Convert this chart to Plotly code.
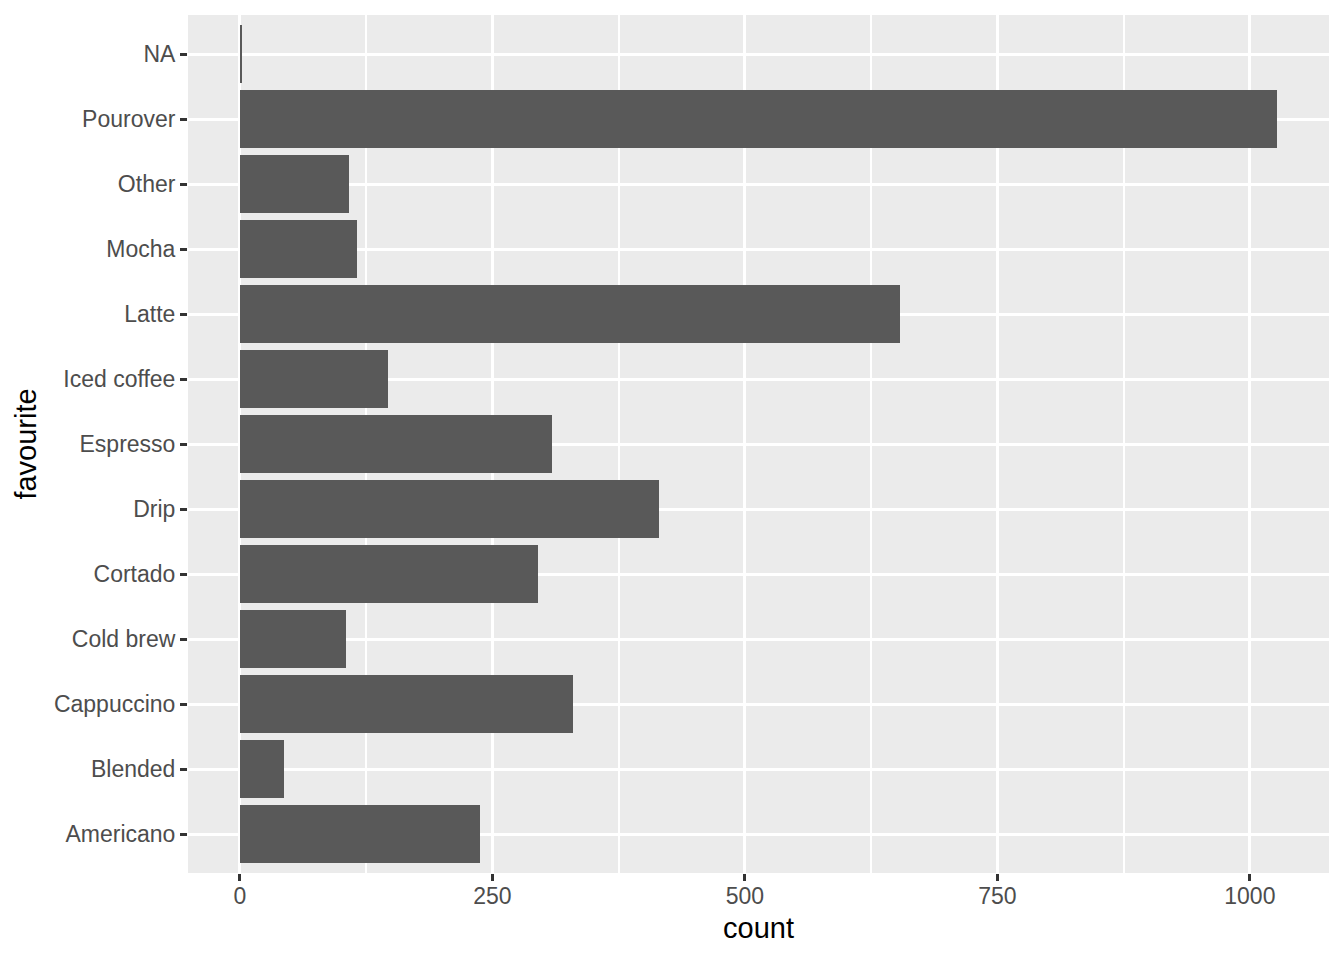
"""
Favourite coffee counts, horizontal bar chart in a ggplot-like style
"""

import plotly.graph_objects as go

# categories bottom -> top
favourite = ["Americano", "Blended", "Cappuccino", "Cold brew", "Cortado", "Drip",
             "Espresso", "Iced coffee", "Latte", "Mocha", "Other", "Pourover", "NA"]
count = [238, 44, 330, 105, 295, 415, 309, 147, 654, 116, 108, 1027, 2]

x_ticks = [0, 250, 500, 750, 1000]

FONT = "Liberation Sans, Arial, sans-serif"

fig = go.Figure()
fig.add_trace(go.Bar(
    x=count,
    y=favourite,
    orientation="h",
    width=0.9,
    marker=dict(color="#595959", line=dict(width=0)),
))

# page body adds an 8px margin, so the figure is a bit smaller than the window
fig.update_layout(
    width=1336,
    height=952,
    margin=dict(l=180, r=15, t=7, b=87),
    paper_bgcolor="white",
    plot_bgcolor="#EBEBEB",
    showlegend=False,
    bargap=0,
    font=dict(family=FONT, color="#4D4D4D", size=23),
)

fig.update_xaxes(
    range=[-51.35, 1078.35],
    tickvals=x_ticks,
    ticktext=[str(v) for v in x_ticks],
    ticks="outside",
    ticklen=7,
    tickwidth=2.7,
    tickcolor="#333333",
    ticklabelstandoff=-5,
    showgrid=True,
    gridcolor="white",
    gridwidth=3,
    zeroline=False,
    showline=False,
    minor=dict(tickvals=[125, 375, 625, 875], showgrid=True,
               gridcolor="white", gridwidth=1.5, ticks=""),
    tickfont=dict(size=23, color="#4D4D4D"),
    title=dict(text="count", font=dict(size=29, color="black"), standoff=10),
)

fig.update_yaxes(
    categoryorder="array",
    categoryarray=favourite,
    range=[-0.6, len(favourite) - 0.4],
    ticks="outside",
    ticklen=7,
    tickwidth=2.7,
    tickcolor="#333333",
    showgrid=True,
    gridcolor="white",
    gridwidth=3,
    zeroline=False,
    showline=False,
    tickfont=dict(size=23, color="#4D4D4D"),
    title=dict(text="favourite", font=dict(size=29, color="black"), standoff=8),
)

fig.write_html("out.html")
